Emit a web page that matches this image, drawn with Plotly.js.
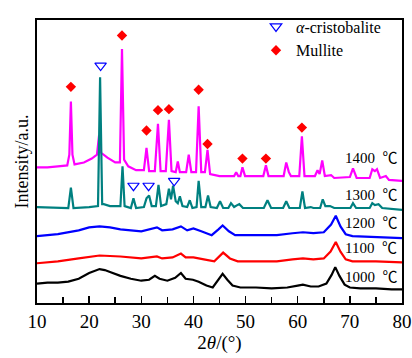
<!DOCTYPE html>
<html>
<head>
<meta charset="utf-8">
<script src="https://cdn.plot.ly/plotly-3.0.1.min.js"></script>
<style>html,body{margin:0;padding:0;background:#fff;}#chart{width:412px;height:358px;}</style>
</head>
<body>
<div id="chart"></div>
<script>
// 1000 °C
var x1000 = [10,12,14,16,18,20,22,23,24,26,28,30,31.5,32.6,33.5,35,36.5,37.6,38.5,39.9,41,42.5,43.7,44.8,45.6,46.5,47.5,49,52,55,58,60,61,62.5,64,65.5,66.5,67.2,68,69,70,72,75,78,80];
var y1000 = [20,21,21,22,25,31,35,34,32,28,25,23,24,28,25,23,26,31,25,24,22,18,16,24,30,24,18,16,16,15,16,18,19,17,17,20,29,37,28,19,16,15,15,14,14];
// 1100 °C
var x1100 = [10,14,18,22,26,30,33,34,36,37.6,38.5,40,42,44,45.7,47,48.5,52,56,59,61,63,65,66.3,67.3,68.2,69.2,70.5,75,80];
var y1100 = [41,43,46,49,48,46,48,46,47,51,47,47,45,43,52,46,43,43,43,45,46,45,46,53,63,53,45,43,43,42];
// 1200 °C
var x1200 = [10,14,18,20,22,24,26,30,33,34,36,37.6,38.8,40,41.5,43.5,44.8,45.6,46.8,48,52,56,59,61,63,65,66.4,67.3,68.2,69.2,70.5,75,80];
var y1200 = [69,71,75,78,79,78,76,74,78,75,76,79,75,77,74,70,76,80,74,70,70,70,72,73,72,73,81,90,79,71,69,68,67];
// 1300 °C
var x1300 = [10,14,16,16.5,17,20,21.7,22.1,22.5,22.8,24,26,26.4,26.8,28,28.5,29,30.5,31,31.5,32,32.8,33.3,33.8,34.8,35.3,35.7,36.1,36.6,37,37.4,37.9,38.8,39.3,39.8,40.6,41,41.5,42.3,42.8,43.3,44.5,45.1,45.7,46.7,47.2,47.8,48.4,48.8,49.5,53.5,54.2,54.9,57.2,57.8,58.4,60.4,60.9,61.4,62.5,63,64.3,64.8,65.3,66.2,67,70.1,70.6,71.2,73.8,74.3,74.8,75.5,76.2,78,80];
var y1300 = [99,98,98,119,98,99,100,233,102,102,100,100,141,100,98,108,98,99,108,111,100,100,122,100,102,118,107,121,105,103,110,100,99,106,98,99,126,99,99,111,99,98,105,98,98,103,99,101,102,98,98,106,98,98,105,98,98,115,98,99,98,98,107,100,100,98,98,103,98,98,103,101,102,98,97,96];
// 1400 °C
var x1400 = [10,12,14,15.8,16.2,16.5,16.8,17.2,19,20.5,21.5,21.9,22.3,23.5,25,25.9,26.3,26.7,27.5,29,30.5,31,31.5,32.6,33.2,33.7,34.7,35.3,35.8,36.6,37,37.4,38.6,39.1,39.6,40.5,41,41.5,42.2,42.7,43.2,45,47.8,48.2,48.6,49,49.4,49.9,53.4,53.9,54.4,57.3,57.8,58.3,58.7,60.3,60.8,61.3,63.3,63.8,64.2,64.7,65.2,66.4,67,70,70.6,71.3,73.8,74.3,74.8,75.2,75.8,76.9,77.5,80];
var y1400 = [140,140,141,142,153,208,153,143,145,149,153,173,155,150,145,145,262,148,141,137,137,160,136,136,185,136,136,189,136,135,146,135,135,153,135,135,203,135,135,158,133,131,131,135,131,131,140,131,131,142,131,131,145,135,131,131,172,131,131,137,133,147,131,132,129,130,139,129,129,138,136,138,129,131,127,126];
// phase markers
var cristX = [22.2,28.5,31.4,36.3];
var cristY = [245,121,121,126];
var mulX = [16.5,26.3,31.0,33.2,35.3,41.0,42.7,49.4,53.9,60.8];
var mulY = [223,276,178,199,200,220,164,149,149,181];
// labels
var labels = ['1400','1300','1200','1100','1000'];
var labelY = [151,113,84,58,28];

var serif = 'Liberation Serif, Times New Roman, serif';
function line(x,y,c){return {x:x,y:y,mode:'lines',line:{color:c,width:2.2},showlegend:false,hoverinfo:'skip'};}
var traces = [
  line(x1400,y1400,'#ff00ff'),
  line(x1300,y1300,'#008080'),
  line(x1200,y1200,'#0000ff'),
  line(x1100,y1100,'#ff0000'),
  line(x1000,y1000,'#000000'),
  {x:cristX,y:cristY,mode:'markers',name:'<i>α</i>-cristobalite',marker:{symbol:'triangle-down-open',size:10,color:'#0000ff',line:{width:1.2}},cliponaxis:false},
  {x:mulX,y:mulY,mode:'markers',name:'Mullite',marker:{symbol:'diamond',size:8,color:'#ff0000'},cliponaxis:false}
];
var ann = labels.map(function(t,i){return {x:68.6,y:labelY[i],xref:'x',yref:'y',
  text:t+"  <span style='font-family:Noto Sans CJK SC'>℃</span>",showarrow:false,xanchor:'left',yanchor:'middle',font:{family:serif,size:15,color:'#000'}};});
var layout = {
  width:412,height:358,
  margin:{l:37,r:10,t:11,b:55},
  paper_bgcolor:'#fff',plot_bgcolor:'#fff',
  font:{family:serif,color:'#000'},
  xaxis:{range:[10,80],dtick:10,tick0:10,ticks:'inside',ticklen:7,tickwidth:1.5,tickcolor:'#000',
    minor:{ticks:'inside',dtick:5,ticklen:6,tickwidth:1.5,tickcolor:'#000'},
    showline:true,linewidth:2,linecolor:'#000',mirror:true,showgrid:false,zeroline:false,
    tickfont:{family:serif,size:19},
    title:{text:'2<i>θ</i>/(°)',font:{family:serif,size:19},standoff:4}},
  yaxis:{range:[0,292],showticklabels:false,ticks:'',showline:true,linewidth:2,linecolor:'#000',mirror:true,
    showgrid:false,zeroline:false,
    title:{text:'Intensity/a.u.',font:{family:serif,size:18},standoff:2}},
  legend:{x:0.6,y:1.037,xanchor:'left',yanchor:'top',bgcolor:'rgba(0,0,0,0)',font:{family:serif,size:16}},
  annotations:ann,
  showlegend:true
};
Plotly.newPlot('chart',traces,layout,{staticPlot:true});
</script>
</body>
</html>
